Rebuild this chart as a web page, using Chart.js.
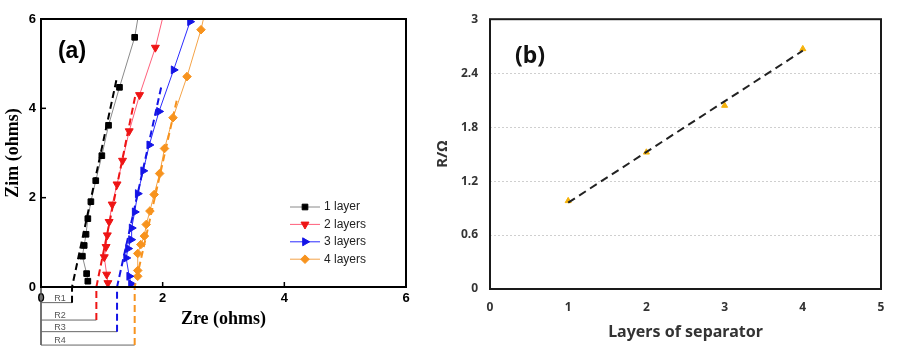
<!DOCTYPE html>
<html>
<head>
<meta charset="utf-8">
<script src="https://cdn.jsdelivr.net/npm/chart.js"></script>
<style>
  body { margin: 0; background: #fff; }
  #wrap { position: relative; width: 900px; height: 350px; }
  canvas { position: absolute; top: 0; }
  #chartA { left: 0; }
  #chartB { left: 430px; }
</style>
</head>
<body>
<div id="wrap">
  <canvas id="chartA" width="440" height="350"></canvas>
  <canvas id="chartB" width="470" height="350"></canvas>
</div>
<script>
"use strict";

// (a) Nyquist plots, one series per separator count
const layers = ["1 layer", "2 layers", "3 layers", "4 layers"];
const zre1 = [0.77, 0.75, 0.68, 0.71, 0.74, 0.77, 0.82, 0.90, 1.00, 1.11, 1.29, 1.54, 1.64];
const zim1 = [0.13, 0.30, 0.69, 0.93, 1.18, 1.53, 1.91, 2.38, 2.94, 3.62, 4.47, 5.59, 6.40];
const zre2 = [1.10, 1.08, 1.04, 1.07, 1.09, 1.12, 1.17, 1.25, 1.34, 1.45, 1.62, 1.88, 2.05];
const zim2 = [0.09, 0.28, 0.67, 0.90, 1.16, 1.46, 1.85, 2.30, 2.83, 3.49, 4.30, 5.36, 6.30];
const zre3 = [1.48, 1.45, 1.40, 1.43, 1.48, 1.49, 1.54, 1.59, 1.68, 1.78, 1.94, 2.18, 2.45];
const zim3 = [0.07, 0.24, 0.65, 0.86, 1.06, 1.32, 1.68, 2.09, 2.60, 3.18, 3.93, 4.86, 5.94];
const zre4 = [1.59, 1.59, 1.59, 1.64, 1.70, 1.73, 1.79, 1.86, 1.95, 2.03, 2.17, 2.40, 2.63, 2.72];
const zim4 = [0.24, 0.37, 0.75, 0.95, 1.14, 1.40, 1.70, 2.07, 2.54, 3.10, 3.79, 4.71, 5.76, 6.30];

// intercepts R1..R4 and the top end of each dashed fit
const rNames = ["R1", "R2", "R3", "R4"];
const rValues = [0.51, 0.91, 1.25, 1.54];
const fitTopX = [1.25, 1.55, 1.98, 2.24];
const fitTopY = [4.70, 4.28, 4.50, 4.23];

// (b) resistance vs layers
const layerCount = [1, 2, 3, 4];
const resistance = [0.98, 1.52, 2.04, 2.67];
const trendX = [1, 4];
const trendY = [0.96, 2.65];

// styling
const arrowRows = [-0.35, -0.74, -1.0, -1.3];
const lineColors = ["#8a8a8a", "#ff5f7a", "#2b2bff", "#f4a347"];
const markColors = ["#000000", "#ee1515", "#1414e6", "#f7931e"];
const markStyles = ["rect", "triangle", "triangle", "rectRot"];
const markRot = [0, 180, 90, 0];
const markSize = [4, 4.6, 4.6, 4.3];

const sansA = '"Liberation Sans", Arial, sans-serif';
const serifA = '"Liberation Serif", "Times New Roman", serif';
const sansB = '"Noto Sans", "Open Sans", sans-serif';

const pts = (xs, ys) => xs.map((x, i) => ({ x: x, y: ys[i] }));

const zreAll = [zre1, zre2, zre3, zre4];
const zimAll = [zim1, zim2, zim3, zim4];

const datasetsA = [];
layers.forEach((name, i) => {
  datasetsA.push({
    label: name,
    data: pts(zreAll[i], zimAll[i]),
    showLine: true,
    borderColor: lineColors[i],
    borderWidth: 1,
    pointStyle: markStyles[i],
    pointRotation: markRot[i],
    pointRadius: markSize[i],
    pointBackgroundColor: markColors[i],
    pointBorderColor: markColors[i],
    pointBorderWidth: 1,
    order: 2,
  });
});
layers.forEach((name, i) => {
  datasetsA.push({
    label: "fit " + name,
    data: [
      { x: rValues[i], y: arrowRows[i] },
      { x: rValues[i], y: 0 },
      { x: fitTopX[i], y: fitTopY[i] },
    ],
    showLine: true,
    borderColor: markColors[i],
    borderWidth: 2,
    borderDash: [7, 4],
    pointRadius: 0,
    clip: false,
    order: 1,
  });
  datasetsA.push({
    label: rNames[i],
    data: [{ x: 0, y: arrowRows[i] }, { x: rValues[i], y: arrowRows[i] }],
    showLine: true,
    borderColor: "#666",
    borderWidth: 1,
    pointStyle: "triangle",
    pointRotation: -90,
    pointRadius: [3.5, 0],
    pointBackgroundColor: "#444",
    pointBorderColor: "#444",
    pointBorderWidth: 0,
    clip: false,
    order: 1,
  });
});
datasetsA.push({
  label: "axis",
  data: [{ x: 0, y: 0 }, { x: 0, y: arrowRows[3] }],
  showLine: true,
  borderColor: "#444",
  borderWidth: 1.5,
  pointRadius: 0,
  clip: false,
  order: 1,
});

const framePlugin = {
  id: "frame",
  afterDatasetsDraw(chart, args, opts) {
    const { ctx, chartArea: a } = chart;
    ctx.save();
    ctx.strokeStyle = opts.color || "#000";
    ctx.lineWidth = 2;
    ctx.strokeRect(a.left, a.top, a.right - a.left, a.bottom - a.top);
    ctx.restore();
  },
};

const extrasA = {
  id: "extrasA",
  afterDatasetsDraw(chart) {
    const { ctx, chartArea: a } = chart;
    const xs = chart.scales.x;
    const ys = chart.scales.y;
    ctx.save();
    // inward ticks
    ctx.strokeStyle = "#000";
    ctx.lineWidth = 1.5;
    xs.ticks.forEach((t) => {
      const px = xs.getPixelForValue(t.value);
      ctx.beginPath();
      ctx.moveTo(px, a.bottom);
      ctx.lineTo(px, a.bottom - 5);
      ctx.stroke();
    });
    ys.ticks.forEach((t) => {
      const py = ys.getPixelForValue(t.value);
      ctx.beginPath();
      ctx.moveTo(a.left, py);
      ctx.lineTo(a.left + 5, py);
      ctx.stroke();
    });
    // R labels
    ctx.fillStyle = "#555";
    ctx.font = "9px " + sansA;
    ctx.textAlign = "center";
    ctx.textBaseline = "alphabetic";
    rNames.forEach((r, i) => {
      ctx.fillText(r, xs.getPixelForValue(0) + 19, ys.getPixelForValue(arrowRows[i]) - 2);
    });
    // panel letter
    ctx.fillStyle = "#000";
    ctx.font = "bold 23px " + sansA;
    ctx.textBaseline = "middle";
    ctx.fillText("(a)", a.left + 31, a.top + 33);
    // legend
    ctx.font = "12px " + sansA;
    ctx.textAlign = "left";
    layers.forEach((name, i) => {
      const ds = chart.data.datasets[i];
      const y = a.top + 188 + i * 17.4;
      ctx.strokeStyle = ds.borderColor;
      ctx.lineWidth = 1;
      ctx.beginPath();
      ctx.moveTo(a.left + 249, y);
      ctx.lineTo(a.left + 279, y);
      ctx.stroke();
      ctx.fillStyle = ds.pointBackgroundColor;
      ctx.strokeStyle = ds.pointBorderColor;
      Chart.helpers.drawPoint(ctx, {
        pointStyle: ds.pointStyle,
        radius: ds.pointRadius,
        rotation: ds.pointRotation,
        borderWidth: 1,
      }, a.left + 264, y);
      ctx.fillStyle = "#222";
      ctx.fillText(name, a.left + 283, y);
    });
    ctx.restore();
  },
};

new Chart(document.getElementById("chartA"), {
  type: "scatter",
  data: { datasets: datasetsA },
  options: {
    responsive: false,
    animation: false,
    layout: { padding: { top: 19, right: 34, left: 0, bottom: 0 } },
    plugins: { legend: { display: false }, tooltip: { enabled: false }, frame: { color: "#000" } },
    scales: {
      x: {
        type: "linear",
        min: 0,
        max: 6,
        ticks: { stepSize: 2, padding: 4, color: "#000", font: { family: sansA, size: 13, weight: "bold" } },
        grid: { display: false, drawTicks: false },
        border: { display: false },
        title: { display: true, text: "Zre (ohms)", color: "#000", padding: { top: 0, bottom: 20 }, font: { family: serifA, size: 18, weight: "bold" } },
        afterFit: (s) => { s.height = 63; },
      },
      y: {
        type: "linear",
        min: 0,
        max: 6,
        ticks: { stepSize: 2, padding: 5, color: "#000", font: { family: sansA, size: 13, weight: "bold" } },
        grid: { display: false, drawTicks: false },
        border: { display: false },
        title: { display: true, text: "Zim (ohms)", color: "#000", padding: { top: 3, bottom: 0 }, font: { family: serifA, size: 18, weight: "bold" } },
        afterFit: (s) => { s.width = 41; },
      },
    },
  },
  plugins: [framePlugin, extrasA],
});

const letterB = {
  id: "letterB",
  afterDatasetsDraw(chart) {
    const { ctx, chartArea: a } = chart;
    ctx.save();
    ctx.fillStyle = "#111";
    ctx.font = "bold 23px " + sansB;
    ctx.textAlign = "center";
    ctx.textBaseline = "middle";
    ctx.fillText("(b)", a.left + 40, a.top + 37);
    ctx.restore();
  },
};

new Chart(document.getElementById("chartB"), {
  type: "scatter",
  data: {
    datasets: [
      {
        label: "trend",
        data: pts(trendX, trendY),
        showLine: true,
        borderColor: "#222",
        borderWidth: 2,
        borderDash: [8, 5],
        pointRadius: 0,
        order: 0,
      },
      {
        label: "R",
        data: pts(layerCount, resistance),
        pointStyle: "triangle",
        pointRadius: 3.5,
        pointBackgroundColor: "#f5b20a",
        pointBorderColor: "#f5b20a",
        order: 1,
      },
    ],
  },
  options: {
    responsive: false,
    animation: false,
    layout: { padding: { top: 11, right: 19, left: 0, bottom: 0 } },
    plugins: { legend: { display: false }, tooltip: { enabled: false }, frame: { color: "#1a1a1a" } },
    scales: {
      x: {
        type: "linear",
        min: 0,
        max: 5,
        ticks: { stepSize: 1, padding: 11, color: "#333", font: { family: sansB, size: 12, weight: "bold" } },
        grid: { display: false, drawTicks: false },
        border: { display: false },
        title: { display: true, text: "Layers of separator", color: "#333", padding: { top: 0, bottom: 8 }, font: { family: sansB, size: 16, weight: "bold" } },
        afterFit: (s) => { s.height = 61; },
      },
      y: {
        type: "linear",
        min: 0,
        max: 3,
        ticks: {
          stepSize: 0.6,
          padding: 12,
          color: "#333",
          font: { family: sansB, size: 12, weight: "bold" },
          callback: (v) => String(Number(v.toFixed(1))),
        },
        grid: {
          drawTicks: false,
          color: (c) => (c.tick && (c.tick.value === 0 || c.tick.value === 3) ? "rgba(0,0,0,0)" : "#cfcfcf"),
        },
        border: { display: false, dash: [2, 2] },
        title: { display: true, text: "R/Ω", color: "#333", padding: { top: 4, bottom: 0 }, font: { family: sansB, size: 15, weight: "bold" } },
        afterFit: (s) => { s.width = 60; },
      },
    },
  },
  plugins: [framePlugin, letterB],
});
</script>
</body>
</html>
